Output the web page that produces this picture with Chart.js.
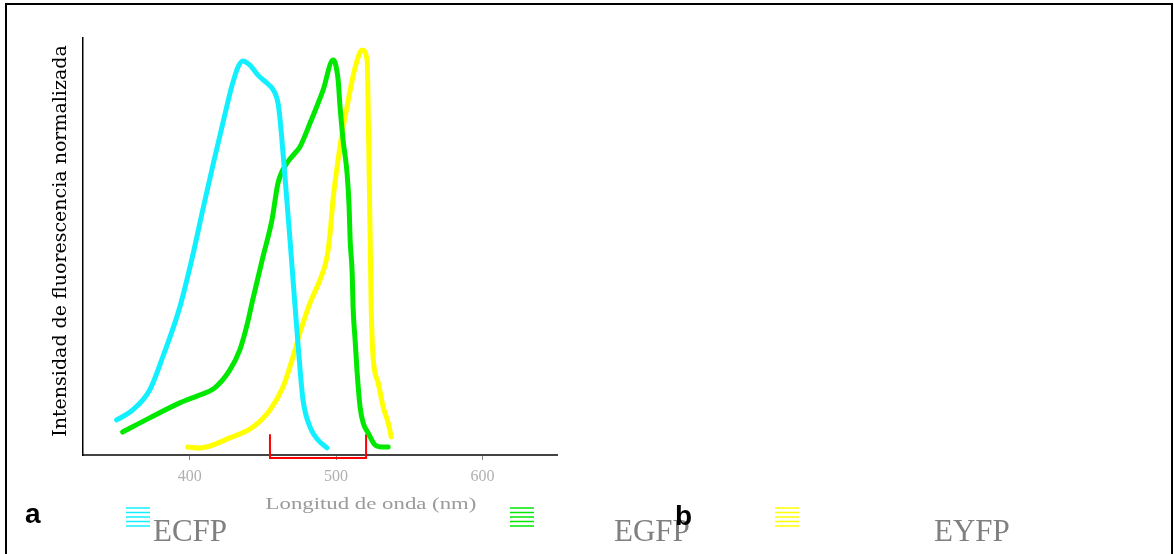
<!DOCTYPE html>
<html>
<head>
<meta charset="utf-8">
<script src="https://cdn.jsdelivr.net/npm/chart.js@4.4.1/dist/chart.umd.min.js"></script>
<style>
  html, body { margin: 0; padding: 0; background: #fff; }
  #wrap { position: relative; width: 1174px; height: 554px; overflow: hidden; }
  #frame { position: absolute; left: 5px; top: 3px; width: 1168px; height: 600px;
           border: 2px solid #000; box-sizing: border-box; }
  canvas { position: absolute; left: 0; top: 0; }
</style>
</head>
<body>
<div id="wrap">
  <div id="frame"></div>
  <canvas id="c" width="1174" height="554"></canvas>
</div>
<script>
// ---- data (wavelength nm, normalized intensity) ----
const seriesNames = ["ECFP", "EGFP", "EYFP"];
const ecfpX = [350.0, 361.0, 372.6, 381.5, 393.2, 402.1, 409.0, 415.8, 422.6, 428.8, 432.9, 436.3, 441.1, 446.6, 452.7, 456.2, 458.2, 460.3, 461.6, 463.0, 465.8, 468.5, 471.2, 474.0, 477.4, 482.2, 487.7, 493.8];
const ecfpY = [0.084, 0.108, 0.156, 0.235, 0.355, 0.480, 0.590, 0.695, 0.796, 0.885, 0.930, 0.945, 0.935, 0.911, 0.892, 0.880, 0.868, 0.844, 0.808, 0.755, 0.635, 0.516, 0.391, 0.264, 0.132, 0.067, 0.036, 0.017];
const egfpX = [354.1, 372.6, 393.2, 406.8, 417.1, 427.4, 434.2, 439.0, 443.2, 450.0, 456.2, 460.3, 466.4, 471.9, 475.3, 482.2, 491.1, 497.9, 499.4, 501.4, 502.7, 504.8, 507.5, 508.9, 509.6, 511.0, 511.6, 513.0, 514.4, 516.4, 518.5, 521.9, 526.7, 531.5, 535.6];
const egfpY = [0.055, 0.089, 0.125, 0.144, 0.161, 0.204, 0.252, 0.310, 0.375, 0.475, 0.564, 0.652, 0.700, 0.724, 0.739, 0.796, 0.875, 0.947, 0.940, 0.899, 0.835, 0.755, 0.676, 0.595, 0.516, 0.436, 0.355, 0.276, 0.197, 0.115, 0.077, 0.053, 0.024, 0.019, 0.019];
const eyfpX = [398.6, 406.8, 427.4, 443.2, 454.8, 463.7, 470.5, 475.3, 482.2, 489.0, 493.8, 495.9, 497.9, 500.7, 504.1, 507.5, 511.0, 514.4, 516.4, 517.8, 521.2, 521.9, 522.6, 523.3, 524.0, 525.3, 528.8, 532.2, 535.6, 537.7];
const eyfpY = [0.019, 0.017, 0.041, 0.067, 0.108, 0.163, 0.235, 0.293, 0.365, 0.420, 0.475, 0.532, 0.612, 0.691, 0.772, 0.835, 0.899, 0.947, 0.966, 0.971, 0.947, 0.835, 0.676, 0.516, 0.355, 0.235, 0.173, 0.115, 0.077, 0.043];
const bracketX = [454.8, 454.8, 520.5, 520.5];
const bracketY = [0.050, -0.007, -0.007, 0.050];
const xTicks = [400, 500, 600];
const xTitle = "Longitud de onda (nm)";
const yTitle = "Intensidad de fluorescencia normalizada";
const panelLabels = ["a", "b"];
const colors = ["#12f0ff", "#00e800", "#ffff00"];

const pts = (xs, ys) => xs.map((x, i) => ({ x: x, y: ys[i] }));

const lineDs = (label, xs, ys, color) => ({
  label: label, data: pts(xs, ys), borderColor: color, backgroundColor: color,
  borderWidth: 5, pointRadius: 0, cubicInterpolationMode: 'monotone',
  borderCapStyle: 'round', borderJoinStyle: 'round', fill: false
});

const decor = {
  id: 'decor',
  afterDraw(chart) {
    const ctx = chart.ctx;
    ctx.save();
    // y title
    ctx.fillStyle = '#000';
    ctx.font = '19px "DejaVu Serif", serif';
    ctx.textAlign = 'center';
    ctx.textBaseline = 'middle';
    ctx.translate(61, 241);
    ctx.rotate(-Math.PI / 2);
    ctx.fillText(yTitle, 0, 0);
    ctx.restore();

    ctx.save();
    // x title (slightly stretched, like the reference)
    ctx.fillStyle = '#9a9a9a';
    ctx.font = '19px "Liberation Serif", serif';
    ctx.textAlign = 'center';
    ctx.textBaseline = 'middle';
    ctx.translate(371, 505);
    ctx.scale(1.2, 0.9);
    ctx.fillText(xTitle, 0, 0);
    ctx.restore();

    ctx.save();
    // panel labels
    ctx.fillStyle = '#000';
    ctx.font = 'bold 28px "Liberation Sans", Arial, sans-serif';
    ctx.textAlign = 'left';
    ctx.textBaseline = 'alphabetic';
    ctx.fillText(panelLabels[0], 25, 523);

    // legend
    const iconX = [126, 510, 775];
    const textX = [153, 614, 934];
    for (let i = 0; i < seriesNames.length; i++) {
      ctx.strokeStyle = colors[i];
      ctx.lineWidth = 1.5;
      for (let k = 0; k < 5; k++) {
        const yy = 508 + k * 4.5;
        ctx.beginPath();
        ctx.moveTo(iconX[i], yy);
        ctx.lineTo(iconX[i] + 24, yy);
        ctx.stroke();
      }
      ctx.fillStyle = '#808080';
      ctx.font = '31px "Liberation Serif", serif';
      ctx.fillText(seriesNames[i], textX[i], 541);
    }
    ctx.fillStyle = '#000';
    ctx.font = 'bold 28px "Liberation Sans", Arial, sans-serif';
    ctx.fillText(panelLabels[1], 675, 525);
    ctx.restore();
  }
};

new Chart(document.getElementById('c'), {
  type: 'scatter',
  data: {
    datasets: [
      lineDs(seriesNames[0], ecfpX, ecfpY, colors[0]),
      lineDs(seriesNames[1], egfpX, egfpY, colors[1]),
      lineDs(seriesNames[2], eyfpX, eyfpY, colors[2]),
      { label: 'rango', data: pts(bracketX, bracketY), showLine: true, borderColor: '#ff0000',
        borderWidth: 2, pointRadius: 0, tension: 0, clip: false, fill: false }
    ]
  },
  options: {
    responsive: false,
    animation: false,
    showLine: true,
    layout: { padding: { left: 83, right: 617, top: 38, bottom: 59 } },
    plugins: { legend: { display: false }, tooltip: { enabled: false } },
    scales: {
      x: {
        type: 'linear', min: 327, max: 651,
        afterBuildTicks: s => { s.ticks = xTicks.map(v => ({ value: v })); },
        afterFit: s => { s.height = 40; },
        grid: { drawOnChartArea: false, drawTicks: true, tickLength: 5, color: '#888' },
        border: { display: true, color: '#444', width: 2 },
        ticks: { color: '#b0b0b0', font: { family: 'Liberation Serif', size: 16 }, padding: 7,
                 callback: v => String(v) }
      },
      y: {
        min: 0, max: 1,
        afterFit: s => { s.width = 0; },
        grid: { display: false },
        border: { display: true, color: '#000', width: 1.5 },
        ticks: { display: false }
      }
    }
  },
  plugins: [decor]
});
</script>
</body>
</html>
